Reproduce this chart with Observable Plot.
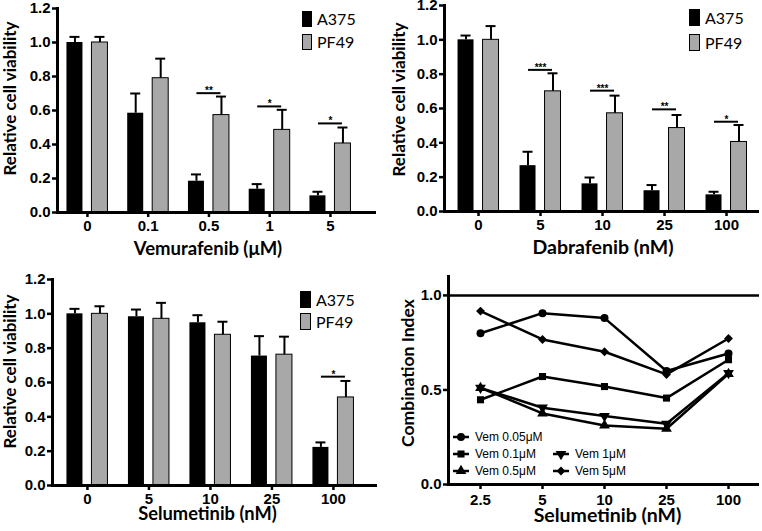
<!DOCTYPE html>
<html><head><meta charset="utf-8">
<script src="https://cdn.jsdelivr.net/npm/d3@7"></script>
<script src="https://cdn.jsdelivr.net/npm/@observablehq/plot@0.6"></script>
<style>
body{margin:0;background:#fff;}
#wrap{position:relative;width:762px;height:531px;overflow:hidden;background:#fff;}
.panel{position:absolute;width:381px;}
.leg{position:absolute;display:flex;align-items:center;font-family:Lato,"Open Sans",sans-serif;font-size:16px;color:#000;white-space:nowrap;}
.sw{display:inline-block;box-sizing:border-box;margin-right:5px;}
.cileg{position:absolute;display:flex;align-items:center;font-family:"Liberation Sans",Arial,sans-serif;font-size:12px;color:#000;white-space:nowrap;}
</style></head><body><div id="wrap"></div><script>
// ---------- Data ----------
const seriesNames = ["A375", "PF49"];

const vemDoses = ["0", "0.1", "0.5", "1", "5"];
const vemA375 = [1.0, 0.584, 0.184, 0.137, 0.098];
const vemA375Err = [1.033, 0.70, 0.224, 0.167, 0.122];
const vemPF49 = [1.0, 0.79, 0.573, 0.486, 0.406];
const vemPF49Err = [1.033, 0.905, 0.682, 0.604, 0.50];
const vemSigDose = ["0.5", "1", "5"];
const vemSigY = [0.702, 0.624, 0.524];
const vemSigStars = ["**", "*", "*"];

const dabDoses = ["0", "5", "10", "25", "100"];
const dabA375 = [1.0, 0.267, 0.161, 0.121, 0.097];
const dabA375Err = [1.025, 0.348, 0.198, 0.154, 0.115];
const dabPF49 = [1.0, 0.70, 0.572, 0.486, 0.405];
const dabPF49Err = [1.08, 0.805, 0.675, 0.562, 0.504];
const dabSigDose = ["5", "10", "25", "100"];
const dabSigY = [0.825, 0.704, 0.595, 0.523];
const dabSigStars = ["***", "***", "**", "*"];

const selDoses = ["0", "5", "10", "25", "100"];
const selA375 = [1.0, 0.983, 0.948, 0.754, 0.222];
const selA375Err = [1.029, 1.025, 0.992, 0.870, 0.251];
const selPF49 = [1.0, 0.971, 0.878, 0.762, 0.513];
const selPF49Err = [1.044, 1.064, 0.954, 0.867, 0.609];
const selSigDose = ["100"];
const selSigY = [0.634];
const selSigStars = ["*"];

const ciDoses = ["2.5", "5", "10", "25", "100"];
const ciNames = ["Vem 0.05\u03bcM", "Vem 0.1\u03bcM", "Vem 0.5\u03bcM", "Vem 1\u03bcM", "Vem 5\u03bcM"];
const ciVem005 = [0.80, 0.906, 0.88, 0.60, 0.693];
const ciVem01 = [0.448, 0.571, 0.518, 0.457, 0.66];
const ciVem05 = [0.511, 0.376, 0.312, 0.295, 0.585];
const ciVem1 = [0.511, 0.406, 0.362, 0.321, 0.589];
const ciVem5 = [0.917, 0.767, 0.702, 0.582, 0.772];
const ciValues = [ciVem005, ciVem01, ciVem05, ciVem1, ciVem5];

const yTicks = [0, 0.2, 0.4, 0.6, 0.8, 1.0, 1.2];
const ciTicks = [0, 0.5, 1.0];

// ---------- Helpers ----------
const sqrt3 = Math.sqrt(3);
const symbolTriangleDown = {
  draw(context, size) {
    const y = -Math.sqrt(size / (sqrt3 * 3));
    context.moveTo(0, -y * 2);
    context.lineTo(-sqrt3 * y, y);
    context.lineTo(sqrt3 * y, y);
    context.closePath();
  }
};
const ciSymbols = [d3.symbolCircle, d3.symbolSquare, d3.symbolTriangle, symbolTriangleDown, d3.symbolDiamond2];

const GRAY = "#a8a8a8";
const baseStyle = "font-family:'Liberation Sans',Arial,sans-serif;font-size:15px;font-weight:bold;background:white;color:black;overflow:visible;";
const tickFont = {fontFamily: "'Liberation Sans', Arial, sans-serif", fontSize: 15, fontWeight: "bold"};
const titleFamily = "Lato, 'Open Sans', sans-serif";

const wrap = document.getElementById("wrap");
function addPanel(left, top, node) {
  const div = document.createElement("div");
  div.className = "panel";
  div.style.left = left + "px";
  div.style.top = top + "px";
  div.appendChild(node);
  wrap.appendChild(div);
  return div;
}

function barPanel(c) {
  const rows = c.doses.map((d, i) => ({dose: d, a: c.a[i], aErr: c.aErr[i], p: c.p[i], pErr: c.pErr[i]}));
  const sig = c.sigDose.map((d, i) => ({dose: d, y: c.sigY[i], stars: c.sigStars[i]}));
  return Plot.plot({
    width: 381, height: c.height,
    marginLeft: c.ml, marginRight: c.mr, marginTop: c.mt, marginBottom: c.mb,
    style: baseStyle,
    x: {type: "band", domain: c.doses, paddingInner: c.pi, paddingOuter: c.po, align: c.align, round: false},
    y: {domain: [0, 1.2]},
    marks: [
      Plot.barY(rows, {x: "dose", y: "a", fill: "black", insetLeft: 0, insetRight: 25}),
      Plot.barY(rows, {x: "dose", y: "p", fill: GRAY, stroke: "black", strokeWidth: 1, insetLeft: 25, insetRight: 0}),
      Plot.ruleX(rows, {x: "dose", y1: "a", y2: "aErr", dx: -12.5, strokeWidth: 2}),
      Plot.tickY(rows, {x: "dose", y: "aErr", insetLeft: 3, insetRight: 28, strokeWidth: 2}),
      Plot.ruleX(rows, {x: "dose", y1: "p", y2: "pErr", dx: 12.5, strokeWidth: 2}),
      Plot.tickY(rows, {x: "dose", y: "pErr", insetLeft: 28, insetRight: 3, strokeWidth: 2}),
      Plot.tickY(sig, {x: "dose", y: "y", insetLeft: 8.5, insetRight: 8.5, strokeWidth: 2}),
      Plot.text(sig, {x: "dose", y: "y", text: "stars", lineAnchor: "bottom", dy: 1, fontSize: 10, fontWeight: "bold"}),
      Plot.ruleY([0], {strokeWidth: 3}),
      Plot.frame({anchor: "left", strokeWidth: 3}),
      Plot.axisY({ticks: yTicks, tickFormat: d3.format(".1f"), tickSize: 5, tickPadding: 2, strokeWidth: 2.5, label: null, ...tickFont}),
      Plot.axisX({tickSize: 5, tickPadding: 3, strokeWidth: 2.5, label: null, ...tickFont}),
      Plot.text([c.xTitle], {text: d => d, frameAnchor: "bottom", textAnchor: "middle", lineAnchor: "middle", dx: c.xdx, dy: c.xdy, fontFamily: titleFamily, fontSize: c.xfs, fontWeight: "bold"}),
      Plot.text(["Relative cell viability"], {text: d => d, frameAnchor: "left", textAnchor: "middle", lineAnchor: "middle", rotate: -90, dx: c.ydx, dy: c.ydy, fontFamily: titleFamily, fontSize: 17, fontWeight: "bold"})
    ]
  });
}

function barLegend(panel, c) {
  const items = [[seriesNames[0], "black", "none"], [seriesNames[1], GRAY, "1px solid black"]];
  items.forEach(([name, color, border], i) => {
    const d = document.createElement("div");
    d.className = "leg";
    d.style.left = c.x + "px";
    d.style.top = (c.y + i * c.gap) + "px";
    const sw = document.createElement("span");
    sw.className = "sw";
    sw.style.width = c.w + "px";
    sw.style.height = c.h + "px";
    sw.style.background = color;
    sw.style.border = border;
    d.appendChild(sw);
    d.appendChild(document.createTextNode(name));
    panel.appendChild(d);
  });
}

// ---------- Panel 1: Vemurafenib ----------
const p1 = addPanel(0, 0, barPanel({
  doses: vemDoses, a: vemA375, aErr: vemA375Err, p: vemPF49, pErr: vemPF49Err,
  sigDose: vemSigDose, sigY: vemSigY, sigStars: vemSigStars,
  height: 265, ml: 57, mr: 5, mt: 8, mb: 53, pi: 0.325, po: 0.288, align: 0.27,
  xTitle: "Vemurafenib (\u03bcM)", xfs: 18.5, xdx: -9, xdy: 37, ydx: -47, ydy: -12
}));
barLegend(p1, {x: 302, y: 9, gap: 23, w: 10, h: 16});

// ---------- Panel 2: Dabrafenib ----------
const p2 = addPanel(381, 0, barPanel({
  doses: dabDoses, a: dabA375, aErr: dabA375Err, p: dabPF49, pErr: dabPF49Err,
  sigDose: dabSigDose, sigY: dabSigY, sigStars: dabSigStars,
  height: 265, ml: 63, mr: 3, mt: 5, mb: 54, pi: 0.339, po: 0.21, align: 0.52,
  xTitle: "Dabrafenib (nM)", xfs: 19.5, xdx: 1, xdy: 36, ydx: -44.5, ydy: -9
}));
barLegend(p2, {x: 308, y: 8, gap: 25, w: 11, h: 17});

// ---------- Panel 3: Selumetinib ----------
const p3 = addPanel(0, 265, barPanel({
  doses: selDoses, a: selA375, aErr: selA375Err, p: selPF49, pErr: selPF49Err,
  sigDose: selSigDose, sigY: selSigY, sigStars: selSigStars,
  height: 266, ml: 52, mr: 4, mt: 14, mb: 46, pi: 0.333, po: 0.309, align: 0.38,
  xTitle: "Selumetinib (nM)", xfs: 18.3, xdx: -7.5, xdy: 29, ydx: -42, ydy: -11
}));
barLegend(p3, {x: 300, y: 25, gap: 22, w: 11, h: 17});

// ---------- Panel 4: Combination Index ----------
const ciRows = [];
ciNames.forEach((name, s) => ciDoses.forEach((d, i) => ciRows.push({series: name, dose: d, ci: ciValues[s][i]})));
const p4 = addPanel(381, 265, Plot.plot({
  width: 381, height: 266, marginLeft: 67, marginRight: 3, marginTop: 11, marginBottom: 47,
  style: baseStyle,
  x: {type: "point", domain: ciDoses, padding: 0.5, align: 0.5},
  y: {domain: [0, 1.1]},
  symbol: {domain: ciNames, range: ciSymbols},
  marks: [
    Plot.ruleY([1], {strokeWidth: 2.5}),
    Plot.line(ciRows, {x: "dose", y: "ci", z: "series", stroke: "black", strokeWidth: 2.5}),
    Plot.dot(ciRows, {x: "dose", y: "ci", symbol: "series", fill: "black", stroke: "none", r: 4}),
    Plot.ruleY([0], {strokeWidth: 3}),
    Plot.frame({anchor: "left", strokeWidth: 3}),
    Plot.axisY({ticks: ciTicks, tickFormat: d3.format(".1f"), tickSize: 5, tickPadding: 2, strokeWidth: 2.5, label: null, ...tickFont}),
    Plot.axisX({tickSize: 5, tickPadding: 5, strokeWidth: 2.5, label: null, ...tickFont}),
    Plot.text(["Selumetinib (nM)"], {text: d => d, frameAnchor: "bottom", textAnchor: "middle", lineAnchor: "middle", dx: 3.5, dy: 31, fontFamily: titleFamily, fontSize: 19.5, fontWeight: "bold"}),
    Plot.text(["Combination Index"], {text: d => d, frameAnchor: "left", textAnchor: "middle", lineAnchor: "middle", rotate: -90, dx: -40.5, dy: -7.5, fontFamily: titleFamily, fontSize: 17.5, fontWeight: "bold"})
  ]
}));

// CI legend: rows/columns as in the reference
const ciLegendLayout = [[0, 0, 0], [1, 0, 1], [2, 0, 2], [3, 1, 1], [4, 1, 2]]; // [series, col, row]
ciLegendLayout.forEach(([s, col, row]) => {
  const d = document.createElement("div");
  d.className = "cileg";
  d.style.left = (col === 0 ? 72 : 172) + "px";
  d.style.top = (164 + row * 17) + "px";
  d.style.height = "16px";
  const svg = d3.create("svg").attr("width", 16).attr("height", 16).style("margin-right", "6px");
  svg.append("line").attr("x1", 0).attr("x2", 16).attr("y1", 8).attr("y2", 8).attr("stroke", "black").attr("stroke-width", 2.5);
  svg.append("path").attr("transform", "translate(8,8)").attr("d", d3.symbol(ciSymbols[s], 50)()).attr("fill", "black");
  d.appendChild(svg.node());
  d.appendChild(document.createTextNode(ciNames[s]));
  p4.appendChild(d);
});
</script></body></html>
